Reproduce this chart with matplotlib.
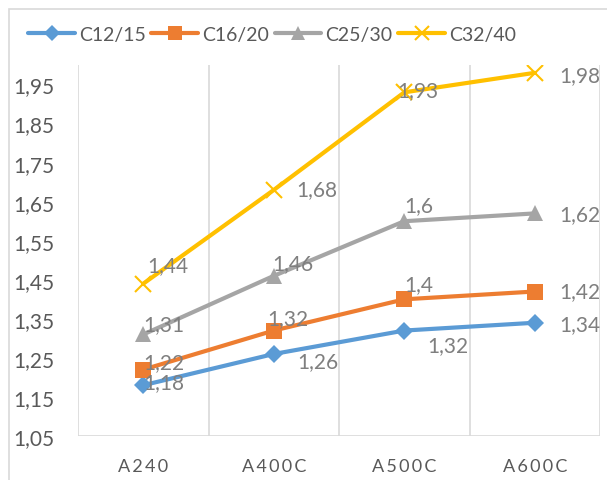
import matplotlib as mpl
mpl.use('Agg')
import matplotlib.pyplot as plt
from matplotlib.patches import Rectangle

plt.rcParams['font.family'] = ['Lato', 'DejaVu Sans']

categories = ['A240', 'A400C', 'A500C', 'A600C']
c12_15 = [1.18, 1.26, 1.32, 1.34]
c16_20 = [1.22, 1.32, 1.40, 1.42]
c25_30 = [1.31, 1.46, 1.60, 1.62]
c32_40 = [1.44, 1.68, 1.93, 1.98]
yticks = [1.05, 1.15, 1.25, 1.35, 1.45, 1.55, 1.65, 1.75, 1.85, 1.95]

# series: name, values, colour, marker, marker size, label offsets in pixels
series = [
    ('C12/15', c12_15, '#5B9BD5', 'D', 9, [(0, 3), (24, -7), (23, -15), (25, -1)]),
    ('C16/20', c16_20, '#ED7D31', 's', 11, [(0, 8), (-6, 12), (0, 15), (25, 0)]),
    ('C25/30', c25_30, '#A5A5A5', '^', 11, [(0, 10), (-1, 13), (0, 16), (25, -1)]),
    ('C32/40', c32_40, '#FFC000', 'x', 11, [(4, 19), (23, 1), (-7, 2), (25, -2)]),
]

def fmt(v):
    return ('%g' % v).replace('.', ',')

fig = plt.figure(figsize=(6.07, 4.81), dpi=100)
fig.patches.append(Rectangle((9 / 607, -0.1), 1.2, 1 - 10 / 481 + 0.1,
                             transform=fig.transFigure, fill=False,
                             edgecolor='#D9D9D9', linewidth=1.2))
ax = fig.add_axes([78 / 607, 1 - 437 / 481, 522 / 607, 371 / 481])

x = list(range(len(categories)))
for name, vals, color, mk, ms, offs in series:
    ax.plot(x, vals, color=color, linewidth=3, marker=mk, markersize=ms,
            markeredgewidth=1.5 if mk == 'x' else 0, markeredgecolor=color,
            label=name, solid_capstyle='round', zorder=3)
    for xi, v, (dx, dy) in zip(x, vals, offs):
        ax.annotate(fmt(v), (xi, v), xytext=(dx, dy), textcoords='offset pixels',
                    ha='left', va='center', fontsize=15, color='#7F7F7F', zorder=4)

ax.set_xlim(-0.5, 3.5)
ax.set_ylim(1.05, 2.0)
for b in [-0.5, 0.5, 1.5, 2.5, 3.5]:
    ax.axvline(b, color='#D9D9D9', linewidth=1.2, zorder=1)
ax.axhline(1.05, color='#D9D9D9', linewidth=1.2, zorder=1)
for s in ax.spines.values():
    s.set_visible(False)

ax.set_yticks(yticks)
ax.set_yticklabels([fmt(t) for t in yticks])
ax.set_xticks(x)
ax.set_xticklabels(['\u2009'.join(c) for c in categories])
ax.tick_params(axis='y', length=0, pad=17, labelsize=15, labelcolor='#595959')
ax.tick_params(axis='x', length=0, pad=16, labelsize=13, labelcolor='#595959')

fig.legend(loc='center', bbox_to_anchor=(272 / 607, 1 - 35 / 481), ncol=4,
           frameon=False, fontsize=14, labelcolor='#595959', handlelength=2.4,
           handletextpad=0.2, columnspacing=0.3, markerscale=0.9)

fig.savefig('out.png', dpi=100)
